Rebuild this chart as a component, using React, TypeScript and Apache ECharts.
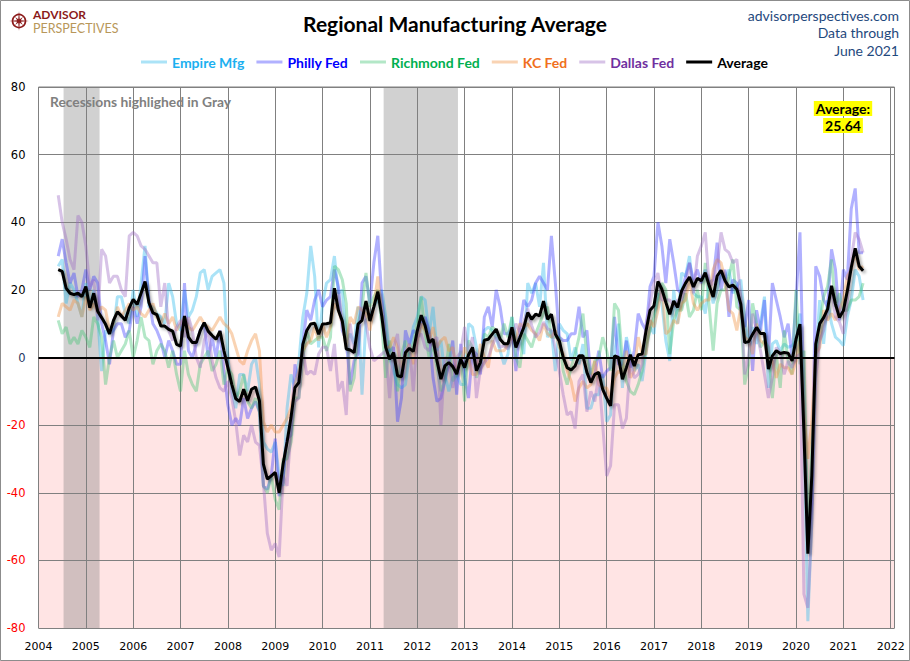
import { useEffect, useRef } from "react";
import * as echarts from "echarts";

// monthly readings, June 2004 .. June 2021
const START_YEAR = 2004;
const START_MONTH = 6;

const empire = [
  27, 29, 16, 22, 20, 16, 12, // 2004 Jun-Dec
  22, 15, 20, 12, -4, 8, 7, 8, 18, 18, 13, 10,
  20, 12, 22, 33, 15, 15, 13, 12, 10, 22, 18, 10,
  8, 20, 12, 14, 18, 25, 26, 20, 24, 25, 26, 22,
  0, -10, -15, -5, -5, -10, -2, 0, -8, -25, -27, -28,
  -25, -35, -38, -15, -5, -9, -1, 12, 19, 33, 24, 3,
  16, 22, 23, 30, 19, 20, 5, 7, 4, 15, -11, 11,
  12, 15, 17, 20, 12, 0, -4, -8, -9, -8, 1, 9,
  12, 18, 17, 7, 15, 2, 5, -5, -10, -6, -5, -8,
  -8, 10, 9, 3, -1, 8, 9, 8, 6, 2, -2, 1,
  12, 5, 6, 1, 22, 19, 22, 15, 28, 6, 8, -4,
  10, 8, 7, -1, 3, -2, 4, -15, -15, -11, -11, -5,
  -19, -17, 1, 10, -9, 6, 1, -4, -2, -7, 2, 9,
  7, 19, 16, 5, -1, 20, 10, 25, 24, 30, 19, 18,
  18, 13, 22, 16, 20, 25, 23, 26, 19, 21, 23, 11,
  4, 9, 4, 10, 18, -9, 4, 5, 2, 4, 3, 3.5,
  5, 13, -21, -78, -48, 0, 17, 4, 17, 10, 6, 5,
  3.5, 12, 17, 26, 24, 17, // 2021 Jan-Jun
];

const philly = [
  30, 35, 28, 22, 25, 18, 20,
  26, 20, 24, 22, 10, 5, -2, 8, 10, 10, 6, 8,
  15, 10, 15, 30, 17, 10, 8, 5, 0, 5, 2, -2,
  -2, 22, 2, 0, 4, 8, 10, 0, 6, 0, 8, -4,
  -14, -20, -18, -20, -12, -18, -15, -13, -16, -38, -39, -35,
  -24, -41, -35, -24, -23, -2, -8, 4, 14, 11, 17, 20,
  15, 17, 18, 26, 21, 8, 5, -8, -1, 1, 22, 24,
  16, 28, 36, 18, 4, 2, 3, -19, -12, 8, 4, 8,
  7, 10, 12, 8, -6, -13, -12, -7, -2, 5, -11, 4,
  -6, -12, 2, 1, -5, 12, 15, 9, 20, 15, 7, 7,
  9, -4, 9, 17, 15, 17, 22, 24, 22, 20, 36, 22,
  6, 5, 5, 7, 7, 15, 6, 8, -6, -5, 2, -6,
  -4, -3, 12, -2, -2, 5, -3, 2, 13, 10, 8, 21,
  24, 40, 33, 22, 35, 28, 20, 19, 24, 28, 23, 26,
  22, 26, 22, 23, 34, 20, 26, 12, 23, 22, 13, 9,
  17, -4, 14, 8, 17, 0, 22, 17, 12, 6, 10, 0,
  17, 37, -13, -57, -43, 27, 24, 17, 15, 32, 26, 11,
  26, 23, 44, 50, 31, 31,
];

const richmond = [
  11, 7, 9, 4, 6, 4, 8,
  6, 3, 12, 10, 6, -8, 0, 5, 0, 2, 4, 8,
  0, 5, 12, 6, 5, -2, 2, 4, 2, -3, 2, -5,
  -10, 2, -5, -8, -10, -2, 0, 2, -4, -2, 2, -8,
  -3, -5, -12, -10, -5, -13, -15, -12, -16, -38, -40, -35,
  -42, -45, -30, -30, -25, -12, -12, 0, 8, 4, 5, 6,
  6, 2, 6, 27, 26, 23, 16, -10, -6, 10, 15, 25,
  15, 18, 20, 10, -6, 5, -1, -10, 1, 5, 0, 4,
  10, 18, 7, 0, 4, -3, -10, -7, 4, -7, -5, 2,
  -13, 5, 3, -6, -2, 7, 6, 9, 8, 5, 10, 6,
  12, 0, -3, 7, 5, 3, 7, 10, 13, 15, 6, 6,
  6, -4, -8, -3, 1, 6, 13, 0, -5, -1, 0, 6,
  2, -4, 16, 14, -1, -7, -10, -11, -8, -4, 4, 8,
  12, 17, 22, 20, 1, 11, 14, 14, 19, 12, 14, 20,
  14, 28, 15, 2, 16, 20, 20, 24, 29, 15, 14, -8,
  -2, 16, 10, 3, 5, 3, -12, 1, -9, 8, -1, -5,
  20, -2, 2, -53, -27, 0, 10, 18, 21, 29, 15, 19,
  14, 14, 17, 17, 18, 22,
];

const kc = [
  12, 16, 15, 14, 17, 16, 12,
  18, 14, 16, 13, 15, 14, 8, 10, 15, 12, 14, 16,
  14, 15, 13, 12, 14, 16, 12, 10, 13, 10, 12, 8,
  10, 12, 9, 8, 10, 12, 10, 9, 8, 10, 12, 10,
  9, 7, 3, -1, -2, 2, 5, 7, 2, -19, -22, -20,
  -22, -22, -20, -18, -15, -8, -4, 2, 4, 5, 9, 5,
  10, 6, 9, 16, 14, 10, 3, 12, 10, 15, 14, 13,
  8, 15, 24, 13, 3, 3, 6, 3, -3, 1, 4, -2,
  5, 10, 8, 5, 9, 3, 5, 6, 2, 3, -4, -2,
  3, 0, -5, -5, 4, 0, -3, 5, 2, 2, 2, 4,
  6, 5, 10, 9, 10, 8, 7, 5, 10, 7, 6, 8,
  3, 1, -4, -7, -13, -9, -7, -9, -8, -1, -8, -9,
  -9, -12, -6, -4, -5, 2, -6, -4, 6, 1, 1, 11,
  9, 14, 20, 7, 8, 11, 10, 16, 17, 23, 16, 14,
  16, 17, 17, 26, 29, 28, 23, 14, 13, 8, 15, 6,
  5, 1, 10, 5, 4, 0, -1, -6, -2, -3, -3, -5,
  -1, 5, -17, -30, -19, 1, 3, 14, 11, 13, 11, 14,
  17, 24, 26, 31, 26, 27,
];

const dallas = [
  48, 40, 35, 29, 26, 42, 40,
  33, 21, 23, 11, 32, 30, 22, 24, 24, 20, 18, 36,
  37, 36, 33, 32, 30, 28, 28, 15, 22, 8, 5, 9,
  11, 6, 12, 8, 0, -3, 5, 8, -1, -6, -9, -10,
  -7, -12, -19, -29, -23, -25, -20, -25, -26, -37, -52, -57,
  -55, -59, -35, -38, -21, -13, -12, 2, -5, -4, -5, 1,
  3, 3, -4, 4, -10, -7, -17, 10, 1, 8, 15, 10,
  3, -1, 0, 1, 2, -12, 3, 7, -6, 1, 4, -10,
  6, 7, 3, 2, 5, 6, -20, 0, -1, -9, 0, 1.5,
  9, 1, 6, -12, -3.5, -1.5, 0, 3.5, 6, 3, 3.5, 2.5,
  5.5, 10, 7.5, 10.5, 14.5, 9.5, 6, 7.5, 10.5, 8.5, 8, 2.5,
  -4, -11, -17, -16, -21, -7, -5, -16, -10, -13, -5, -20,
  -35, -32, -14, -14, -21, -18, -1, -6, -5, -2, 10, 16,
  22, 25, 17, 17, 17, 15, 17, 17, 21, 28, 19, 30,
  33, 37, 21, 22, 27, 37, 32, 31, 28, 29, 18, -5,
  1, 13, 8, 2, -5, -12, -6, 3, 1.5, -5, -1, -3,
  0, 1, -70, -74, -49, -6, 5, 8, 14, 20, 12, 10.5,
  7, 17, 29, 37, 35, 31,
];

const average = [
  26, 25.5, 20.5, 19, 18.6, 19, 18,
  21, 14.7, 19, 13.7, 11.8, 9.8, 7, 11, 13.5, 12.3, 11, 14.7,
  17.2, 15.7, 19, 22.5, 16.2, 13.2, 12.7, 9.3, 9.3, 8.3, 7.8, 3.9,
  3.4, 12.3, 6, 4.4, 4.4, 8, 10.3, 7.8, 6.5, 5.4, 7.8, 2,
  -3, -8, -12.2, -13, -9.4, -12.8, -9.4, -8.7, -12.8, -31.5, -36, -35,
  -34, -40, -31.5, -25, -17.7, -8.9, -7.4, 3.9, 8, 9.9, 10.1, 6.9,
  9.9, 10, 10.3, 20.5, 14, 10.8, 2.5, 2.2, 1.5, 9.9, 11, 16.7,
  10.8, 15, 19.5, 12.3, 3, -0.5, 1.5, -5.4, -5.7, 1.5, 2.7, 1.8,
  7.9, 12.5, 9.4, 4.4, 5.4, -1, -6.4, -2.5, -1.5, -2.7, -4.9, -0.5,
  -3, 0.8, 3, -3.9, -1.5, 5.1, 5.4, 6.9, 8.4, 5.4, 4.1, 4.1,
  8.9, 3, 5.9, 8.9, 13.3, 11.3, 12.8, 12.3, 16.7, 11.3, 12.8, 6.9,
  4.9, 0, -3, -3.7, -2.5, 0.5, 0.5, -4.4, -7.4, -5, -4.4, -9.4,
  -12, -14.3, 0.5, 0, -6.4, -3, 0.8, -2.5, 0.8, 1, 8, 14,
  15.3, 22.5, 20.2, 16.3, 12.8, 16.7, 14.8, 19.7, 22, 23.8, 20.9, 23.4,
  22.7, 25.1, 21.2, 17.9, 24.1, 25.8, 22.7, 20.9, 21.4, 20.2, 15.8, 4.4,
  4.7, 6.9, 8.9, 7.1, 7.1, -3.4, 0.5, 2, 1.2, 1.5, 1.3, -1,
  5.4, 9.9, -22, -58, -35, 4, 10, 11.8, 14.3, 21.2, 15.8, 11.8,
  13.8, 19.7, 26.6, 32.3, 27, 25.64,
];

// recession shading as drawn (decimal years)
const recessions = [
  [2004.53, 2005.29],
  [2011.29, 2012.86],
];

const regional = [
  { name: "Empire Mfg", values: empire, line: "#2db9eb", text: "#1cb0f0" },
  { name: "Philly Fed", values: philly, line: "#3c3cff", text: "#0000ff" },
  { name: "Richmond Fed", values: richmond, line: "#41c373", text: "#00b050" },
  { name: "KC Fed", values: kc, line: "#f19141", text: "#f07020" },
  { name: "Dallas Fed", values: dallas, line: "#9b69c3", text: "#7030a0" },
];

const FONT = "Lato, 'DejaVu Sans', sans-serif";

function toPoints(values: number[]) {
  return values.map((v, i) => [START_YEAR + (START_MONTH - 1 + i) / 12, v]);
}

function compassPoints(cx: number, cy: number) {
  const pts: number[][] = [];
  for (let k = 0; k < 16; k++) {
    const a = (Math.PI / 8) * k - Math.PI / 2;
    const r = k % 4 === 0 ? 10 : k % 2 === 0 ? 5.5 : 2;
    pts.push([cx + r * Math.cos(a), cy + r * Math.sin(a)]);
  }
  return pts;
}

function buildOption() {
  const last = average[average.length - 1];

  const lines = regional.map((s) => ({
    name: s.name,
    type: "line",
    data: toPoints(s.values),
    showSymbol: false,
    symbol: "none",
    z: 3,
    itemStyle: { color: s.line, opacity: 0.4 },
    lineStyle: { color: s.line, width: 3, opacity: 0.4 },
  }));

  return {
    animation: false,
    backgroundColor: "#ffffff",
    textStyle: { fontFamily: FONT },
    title: {
      text: "Regional Manufacturing Average",
      left: "center",
      top: 13,
      padding: 0,
      textStyle: { fontFamily: FONT, fontSize: 21, fontWeight: "bold", color: "#000" },
    },
    legend: {
      left: 141,
      top: 55,
      padding: 0,
      icon: "rect",
      itemWidth: 26,
      itemHeight: 3,
      itemGap: 12,
      textStyle: { fontFamily: FONT, fontSize: 14, fontWeight: "bold" },
      data: [
        ...regional.map((s) => ({
          name: s.name,
          textStyle: { color: s.text },
          itemStyle: { color: s.line, opacity: 0.4 },
        })),
        { name: "Average", textStyle: { color: "#000" }, itemStyle: { color: "#000", opacity: 1 } },
      ],
    },
    grid: {
      left: 38.5,
      top: 87,
      width: 856,
      height: 541,
      show: true,
      borderColor: "#808080",
      borderWidth: 1,
      backgroundColor: "transparent",
    },
    xAxis: {
      type: "value",
      min: 2004,
      max: 2022.08,
      interval: 1,
      z: 2,
      axisLine: { show: false },
      axisTick: { show: false },
      splitLine: { show: true, lineStyle: { color: "#808080", width: 1 } },
      axisLabel: {
        margin: 13,
        fontSize: 11,
        fontFamily: "'DejaVu Sans', sans-serif",
        color: "#000",
        formatter: (v: number) => (Math.abs(v - Math.round(v)) < 1e-6 ? String(Math.round(v)) : ""),
      },
    },
    yAxis: {
      type: "value",
      min: -80,
      max: 80,
      interval: 20,
      z: 2,
      axisLine: { show: false },
      axisTick: { show: false },
      splitLine: { show: true, lineStyle: { color: "#808080", width: 1 } },
      axisLabel: {
        margin: 13,
        fontSize: 11.5,
        fontFamily: "'DejaVu Sans', sans-serif",
        color: (v: any) => {
          const n = Number(v);
          return n < 0 ? "#ff0000" : n === 0 ? "#1f3864" : "#000000";
        },
      },
    },
    graphic: [
      {
        type: "rect",
        shape: { x: 0.5, y: 0.5, width: 909, height: 660 },
        style: { fill: "none", stroke: "#8c8c8c", lineWidth: 1 },
        silent: true,
      },
      {
        type: "circle",
        shape: { cx: 19, cy: 21, r: 6.5 },
        style: { fill: "none", stroke: "#8b1a1a", lineWidth: 1.6 },
      },
      {
        type: "polygon",
        shape: { points: compassPoints(19, 21) },
        style: { fill: "#8b1a1a" },
      },
      {
        type: "text",
        style: {
          x: 33, y: 14.5, text: "ADVISOR",
          font: `bold 12px ${FONT}`, fill: "#8b1a1a",
          textAlign: "left", textVerticalAlign: "middle", align: "left", verticalAlign: "middle",
        },
      },
      {
        type: "text",
        style: {
          x: 33, y: 28.5, text: "PERSPECTIVES",
          font: `12.5px ${FONT}`, fill: "#b8975a",
          textAlign: "left", textVerticalAlign: "middle", align: "left", verticalAlign: "middle",
        },
      },
      ...["advisorperspectives.com", "Data through", "June 2021"].map((t, i) => ({
        type: "text",
        style: {
          x: 899, y: 15 + i * 17.5, text: t,
          font: `14px ${FONT}`, fill: "#1f497d",
          textAlign: "right", textVerticalAlign: "middle", align: "right", verticalAlign: "middle",
        },
      })),
      {
        type: "text",
        z: 10,
        style: {
          x: 50, y: 101, text: "Recessions highlighed in Gray",
          font: `bold 13.8px ${FONT}`, fill: "#808080",
          textAlign: "left", textVerticalAlign: "middle", align: "left", verticalAlign: "middle",
        },
      },
      {
        type: "text",
        z: 10,
        style: {
          x: 843, y: 108.5, text: "Average:",
          font: `bold 14px ${FONT}`, fill: "#000",
          backgroundColor: "#ffff00", padding: [1, 2, 0, 2],
          textAlign: "center", textVerticalAlign: "middle", align: "center", verticalAlign: "middle",
        },
      },
      {
        type: "text",
        z: 10,
        style: {
          x: 843, y: 125.5, text: last.toFixed(2),
          font: `bold 14px ${FONT}`, fill: "#000",
          backgroundColor: "#ffff00", padding: [1, 2, 0, 2],
          textAlign: "center", textVerticalAlign: "middle", align: "center", verticalAlign: "middle",
        },
      },
    ],
    series: [
      {
        name: "backdrop",
        type: "line",
        data: [],
        z: 0,
        silent: true,
        markArea: {
          silent: true,
          z: 0,
          label: { show: false },
          data: [
            [
              { yAxis: -80, itemStyle: { color: "#ffe4e4" } },
              { yAxis: 0 },
            ],
            ...recessions.map(([a, b]) => [
              { xAxis: a, itemStyle: { color: "rgba(120,120,120,0.34)" } },
              { xAxis: b },
            ]),
          ],
        },
      },
      ...lines,
      {
        name: "zero",
        type: "line",
        data: [],
        z: 4,
        silent: true,
        markLine: {
          silent: true,
          z: 4,
          symbol: "none",
          label: { show: false },
          lineStyle: { color: "#000", width: 2, type: "solid" },
          data: [{ yAxis: 0 }],
        },
      },
      {
        name: "Average",
        type: "line",
        data: toPoints(average),
        showSymbol: false,
        symbol: "none",
        z: 6,
        itemStyle: { color: "#000" },
        lineStyle: {
          color: "#000",
          width: 3,
          shadowColor: "rgba(0,0,0,0.35)",
          shadowBlur: 3,
          shadowOffsetX: 2,
          shadowOffsetY: 2,
        },
      },
    ],
  };
}

export default function App() {
  const ref = useRef<HTMLDivElement>(null);

  useEffect(() => {
    if (!ref.current) return;
    const chart = echarts.init(ref.current, undefined, { renderer: "svg" });
    chart.setOption(buildOption() as any);
    return () => {
      chart.dispose();
    };
  }, []);

  return (
    <div
      ref={ref}
      style={{ position: "absolute", left: 0, top: 0, width: 910, height: 661 }}
    />
  );
}
